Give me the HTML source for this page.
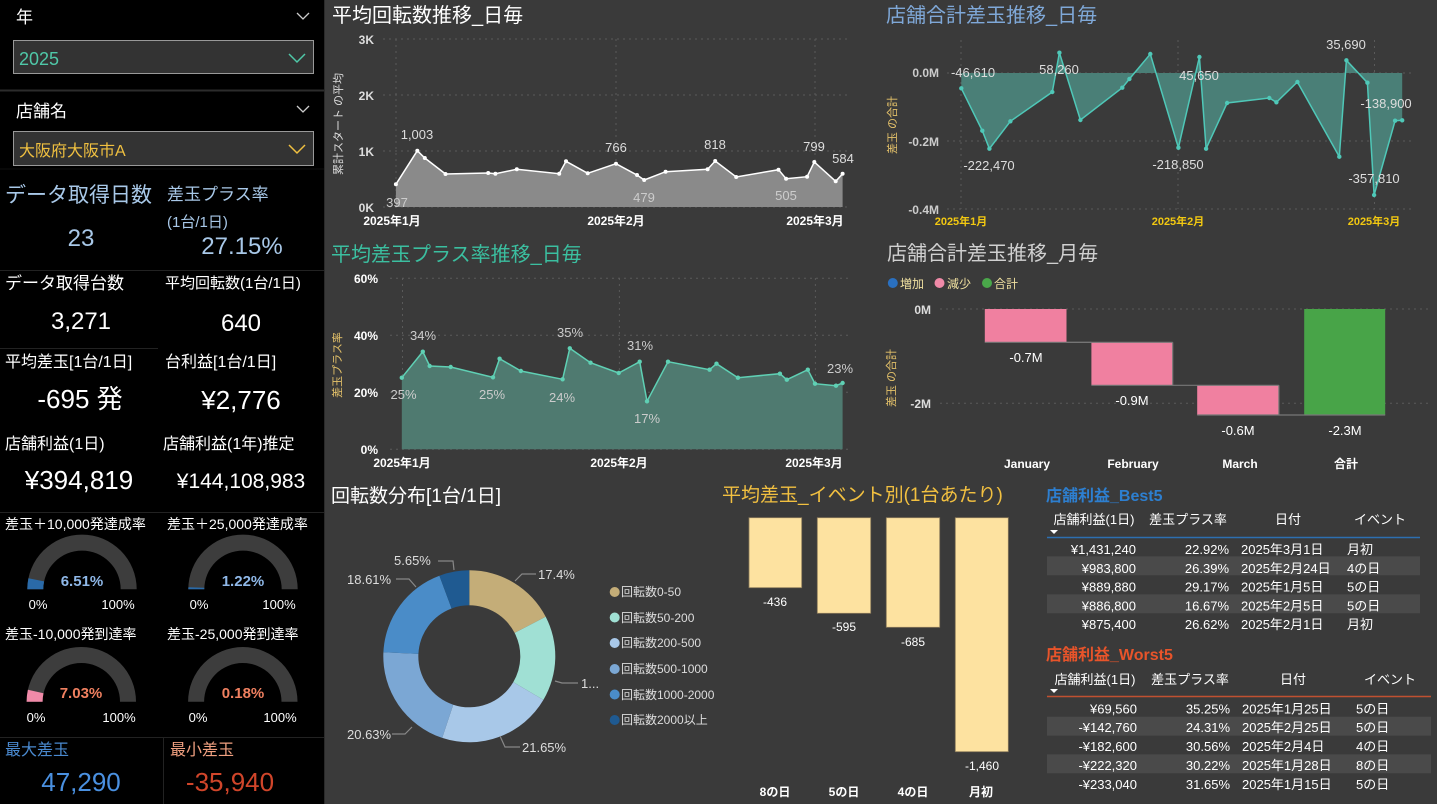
<!DOCTYPE html>
<html><head><meta charset="utf-8"><style>
html,body{margin:0;padding:0;background:#3a3a3a;}
svg{display:block;font-family:"Liberation Sans","Noto Sans CJK JP",sans-serif;}
</style></head><body>
<svg width="1437" height="804" viewBox="0 0 1437 804" xmlns="http://www.w3.org/2000/svg">
<rect x="0" y="0" width="1437" height="804" fill="#3a3a3a"/>
<!-- LEFT PANEL -->
<rect x="0" y="0" width="324" height="804" fill="#000"/>
<line x1="324.5" y1="0" x2="324.5" y2="804" stroke="#2a2a2a"/>
<text x="16" y="23" fill="#fff" font-size="17">年</text>
<path d="M297 13 l6 6 l6 -6" fill="none" stroke="#ccc" stroke-width="1.3"/>
<rect x="13.5" y="40.5" width="300" height="33" fill="#333" stroke="#999"/>
<text x="19" y="65" fill="#4fc8a8" font-size="18">2025</text>
<path d="M289 54 l8 8 l8 -8" fill="none" stroke="#4fc8a8" stroke-width="1.5"/>
<line x1="0" y1="90.5" x2="324" y2="90.5" stroke="#2c2c2c" stroke-width="2"/>
<text x="16" y="117" fill="#fff" font-size="17">店舗名</text>
<path d="M297 106 l6 6 l6 -6" fill="none" stroke="#ccc" stroke-width="1.3"/>
<rect x="13.5" y="131.5" width="300" height="34" fill="#333" stroke="#999"/>
<text x="19" y="156" fill="#f0c040" font-size="16">大阪府大阪市A</text>
<path d="M289 145 l8 8 l8 -8" fill="none" stroke="#f0c040" stroke-width="1.5"/>
<line x1="0" y1="169" x2="324" y2="169" stroke="#111"/>

<text x="5" y="202" fill="#a8c8e8" font-size="21">データ取得日数</text>
<text x="81" y="246" fill="#a8c8e8" font-size="24" text-anchor="middle">23</text>
<text x="167" y="200" fill="#a8c8e8" font-size="17">差玉プラス率</text>
<text x="167" y="227" fill="#a8c8e8" font-size="15">(1台/1日)</text>
<text x="242" y="254" fill="#a8c8e8" font-size="24" text-anchor="middle">27.15%</text>
<line x1="0" y1="270.5" x2="324" y2="270.5" stroke="#222"/>
<text x="5" y="289" fill="#fff" font-size="17">データ取得台数</text>
<text x="81" y="329" fill="#fff" font-size="24" text-anchor="middle">3,271</text>
<text x="165" y="288" fill="#fff" font-size="15">平均回転数(1台/1日)</text>
<text x="241" y="331" fill="#fff" font-size="24" text-anchor="middle">640</text>
<line x1="0" y1="348.5" x2="158" y2="348.5" stroke="#222"/>
<text x="5" y="367" fill="#fff" font-size="16">平均差玉[1台/1日]</text>
<text x="165" y="367" fill="#fff" font-size="16">台利益[1台/1日]</text>
<text x="80" y="408" fill="#fff" font-size="26" text-anchor="middle">-695 発</text>
<text x="241" y="409" fill="#fff" font-size="26" text-anchor="middle">¥2,776</text>
<text x="5" y="449" fill="#fff" font-size="16">店舗利益(1日)</text>
<text x="163" y="449" fill="#fff" font-size="16">店舗利益(1年)推定</text>
<text x="79" y="489" fill="#fff" font-size="26" text-anchor="middle">¥394,819</text>
<text x="241" y="488" fill="#fff" font-size="21" text-anchor="middle">¥144,108,983</text>
<line x1="0" y1="512.5" x2="324" y2="512.5" stroke="#222"/>
<text x="5" y="529" fill="#fff" font-size="14">差玉＋10,000発達成率</text>
<text x="167" y="529" fill="#fff" font-size="14">差玉＋25,000発達成率</text>
<!-- gauges -->
<path d="M27.3 589.3 A54.7 54.7 0 0 1 136.7 589.3 L120.7 589.3 A38.7 38.7 0 0 0 43.3 589.3 Z" fill="#3d3d3d"/>
<path d="M27.3 589.3 A54.7 54.7 0 0 1 28.44 578.2 L44.1 581.4 A38.7 38.7 0 0 0 43.3 589.3 Z" fill="#2a6aa8"/>
<text x="82" y="586" fill="#8fb8e8" font-size="15" font-weight="bold" text-anchor="middle">6.51%</text>
<text x="38" y="609" fill="#fff" font-size="13" text-anchor="middle">0%</text>
<text x="118" y="609" fill="#fff" font-size="13" text-anchor="middle">100%</text>
<path d="M188.3 589.3 A54.7 54.7 0 0 1 297.7 589.3 L281.7 589.3 A38.7 38.7 0 0 0 204.3 589.3 Z" fill="#3d3d3d"/>
<path d="M188.3 589.3 A54.7 54.7 0 0 1 188.4 587.2 L204.3 587.8 A38.7 38.7 0 0 0 204.3 589.3 Z" fill="#2a6aa8"/>
<text x="243" y="586" fill="#8fb8e8" font-size="15" font-weight="bold" text-anchor="middle">1.22%</text>
<text x="199" y="609" fill="#fff" font-size="13" text-anchor="middle">0%</text>
<text x="279" y="609" fill="#fff" font-size="13" text-anchor="middle">100%</text>
<text x="5" y="639" fill="#fff" font-size="14">差玉-10,000発到達率</text>
<text x="167" y="639" fill="#fff" font-size="14">差玉-25,000発到達率</text>
<path d="M26.6 701.7 A54.7 54.7 0 0 1 136 701.7 L120 701.7 A38.7 38.7 0 0 0 42.6 701.7 Z" fill="#3d3d3d"/>
<path d="M26.6 701.7 A54.7 54.7 0 0 1 27.9 689.7 L43.5 693.2 A38.7 38.7 0 0 0 42.6 701.7 Z" fill="#f08aa8"/>
<text x="81" y="698" fill="#f08060" font-size="15" font-weight="bold" text-anchor="middle">7.03%</text>
<text x="36" y="722" fill="#fff" font-size="13" text-anchor="middle">0%</text>
<text x="119" y="722" fill="#fff" font-size="13" text-anchor="middle">100%</text>
<path d="M188.1 701.7 A54.7 54.7 0 0 1 297.5 701.7 L281.5 701.7 A38.7 38.7 0 0 0 204.1 701.7 Z" fill="#3d3d3d"/>
<text x="243" y="698" fill="#f08060" font-size="15" font-weight="bold" text-anchor="middle">0.18%</text>
<text x="198" y="722" fill="#fff" font-size="13" text-anchor="middle">0%</text>
<text x="280" y="722" fill="#fff" font-size="13" text-anchor="middle">100%</text>
<line x1="0" y1="737.5" x2="324" y2="737.5" stroke="#222"/>
<line x1="163.5" y1="737" x2="163.5" y2="804" stroke="#222"/>
<text x="5" y="755" fill="#4a8ad0" font-size="16">最大差玉</text>
<text x="81" y="791" fill="#4a90e0" font-size="26" text-anchor="middle">47,290</text>
<text x="170" y="755" fill="#f0a080" font-size="16">最小差玉</text>
<text x="230" y="791" fill="#d0452a" font-size="26" text-anchor="middle">-35,940</text>

<!-- CHART 1 -->
<text x="332" y="22" fill="#fff" font-size="20">平均回転数推移_日毎</text>
<g stroke="#5a5a5a" stroke-dasharray="2,4" stroke-width="1">
<line x1="383" y1="39" x2="851" y2="39"/><line x1="383" y1="95" x2="851" y2="95"/><line x1="383" y1="151" x2="851" y2="151"/><line x1="383" y1="207" x2="851" y2="207"/>
<line x1="396" y1="39" x2="396" y2="207"/><line x1="616" y1="39" x2="616" y2="207"/><line x1="815" y1="39" x2="815" y2="207"/>
</g>
<path d="M395.9 184.3 L417.3 150.7 L424.8 158 L445.5 174 L488.2 173 L495.4 173.7 L516.8 169.3 L559.2 173.7 L566 161.3 L587.7 173.3 L616 163.7 L637 175 L644.2 180 L665.6 171.7 L707.6 169.3 L715.2 161 L736.2 177 L778.5 169.7 L786.1 178.7 L807.1 176.7 L814.3 162 L835.7 181.3 L842.6 173.7 L842.6 207 L395.9 207 Z" fill="#8a8a8a"/>
<polyline points="395.9,184.3 417.3,150.7 424.8,158 445.5,174 488.2,173 495.4,173.7 516.8,169.3 559.2,173.7 566,161.3 587.7,173.3 616,163.7 637,175 644.2,180 665.6,171.7 707.6,169.3 715.2,161 736.2,177 778.5,169.7 786.1,178.7 807.1,176.7 814.3,162 835.7,181.3 842.6,173.7" fill="none" stroke="#fff" stroke-width="1.5"/>
<g fill="#fff"><circle cx="395.9" cy="184.3" r="2"/><circle cx="417.3" cy="150.7" r="2"/><circle cx="424.8" cy="158" r="2"/><circle cx="445.5" cy="174" r="2"/><circle cx="488.2" cy="173" r="2"/><circle cx="495.4" cy="173.7" r="2"/><circle cx="516.8" cy="169.3" r="2"/><circle cx="559.2" cy="173.7" r="2"/><circle cx="566" cy="161.3" r="2"/><circle cx="587.7" cy="173.3" r="2"/><circle cx="616" cy="163.7" r="2"/><circle cx="637" cy="175" r="2"/><circle cx="644.2" cy="180" r="2"/><circle cx="665.6" cy="171.7" r="2"/><circle cx="707.6" cy="169.3" r="2"/><circle cx="715.2" cy="161" r="2"/><circle cx="736.2" cy="177" r="2"/><circle cx="778.5" cy="169.7" r="2"/><circle cx="786.1" cy="178.7" r="2"/><circle cx="807.1" cy="176.7" r="2"/><circle cx="814.3" cy="162" r="2"/><circle cx="835.7" cy="181.3" r="2"/><circle cx="842.6" cy="173.7" r="2"/></g>
<g font-size="13" text-anchor="middle">
<text x="397" y="207" fill="#ccc">397</text><text x="417" y="139" fill="#ddd">1,003</text><text x="616" y="152" fill="#ddd">766</text><text x="644" y="202" fill="#ccc">479</text><text x="715" y="149" fill="#ddd">818</text><text x="786" y="200" fill="#ccc">505</text><text x="814" y="151" fill="#ddd">799</text><text x="843" y="163" fill="#ddd">584</text>
</g>
<g font-size="12" font-weight="bold" fill="#ddd" text-anchor="end"><text x="374" y="44">3K</text><text x="374" y="100">2K</text><text x="374" y="156">1K</text><text x="374" y="212">0K</text></g>
<g font-size="12" font-weight="bold" fill="#fff" text-anchor="middle"><text x="392" y="225">2025年1月</text><text x="616" y="225">2025年2月</text><text x="815" y="225">2025年3月</text></g>
<text transform="translate(342,124) rotate(-90)" fill="#ddd" font-size="11" text-anchor="middle">累計スタート の平均</text>

<!-- CHART 2 -->
<text x="886" y="22" fill="#7fa8d8" font-size="20">店舗合計差玉推移_日毎</text>
<g stroke="#5a5a5a" stroke-dasharray="2,4">
<line x1="947" y1="73" x2="1411" y2="73"/><line x1="947" y1="141" x2="1411" y2="141"/><line x1="947" y1="209" x2="1411" y2="209"/>
<line x1="961" y1="40" x2="961" y2="209"/><line x1="1178" y1="40" x2="1178" y2="209"/><line x1="1374.5" y1="40" x2="1374.5" y2="209"/>
</g>
<path d="M961.3 73 L961.3 88.3 L982.3 130.7 L989.4 148.7 L1010.4 121.3 L1052.3 92 L1059.4 52.7 L1080.4 120 L1122.3 87.7 L1129.4 79 L1150.3 54 L1178.4 147.7 L1199.4 57 L1206.1 148.7 L1227.1 103 L1269.3 98 L1276.4 102.3 L1297.4 82 L1339.3 156.7 L1346.4 60.3 L1367.4 82.7 L1374.1 195 L1395.1 120.7 L1402.2 120.3 L1402.2 73 Z" fill="#4a7f77"/>
<polyline points="961.3,88.3 982.3,130.7 989.4,148.7 1010.4,121.3 1052.3,92 1059.4,52.7 1080.4,120 1122.3,87.7 1129.4,79 1150.3,54 1178.4,147.7 1199.4,57 1206.1,148.7 1227.1,103 1269.3,98 1276.4,102.3 1297.4,82 1339.3,156.7 1346.4,60.3 1367.4,82.7 1374.1,195 1395.1,120.7 1402.2,120.3" fill="none" stroke="#4fc8b8" stroke-width="1.5"/>
<g fill="#4fc8b8"><circle cx="961.3" cy="88.3" r="2.2"/><circle cx="982.3" cy="130.7" r="2.2"/><circle cx="989.4" cy="148.7" r="2.2"/><circle cx="1010.4" cy="121.3" r="2.2"/><circle cx="1052.3" cy="92" r="2.2"/><circle cx="1059.4" cy="52.7" r="2.2"/><circle cx="1080.4" cy="120" r="2.2"/><circle cx="1122.3" cy="87.7" r="2.2"/><circle cx="1129.4" cy="79" r="2.2"/><circle cx="1150.3" cy="54" r="2.2"/><circle cx="1178.4" cy="147.7" r="2.2"/><circle cx="1199.4" cy="57" r="2.2"/><circle cx="1206.1" cy="148.7" r="2.2"/><circle cx="1227.1" cy="103" r="2.2"/><circle cx="1269.3" cy="98" r="2.2"/><circle cx="1276.4" cy="102.3" r="2.2"/><circle cx="1297.4" cy="82" r="2.2"/><circle cx="1339.3" cy="156.7" r="2.2"/><circle cx="1346.4" cy="60.3" r="2.2"/><circle cx="1367.4" cy="82.7" r="2.2"/><circle cx="1374.1" cy="195" r="2.2"/><circle cx="1395.1" cy="120.7" r="2.2"/><circle cx="1402.2" cy="120.3" r="2.2"/></g>
<g font-size="13" fill="#ddd" text-anchor="middle">
<text x="973" y="77">-46,610</text><text x="1059" y="74">58,260</text><text x="989" y="170">-222,470</text><text x="1178" y="169">-218,850</text><text x="1199" y="80">45,650</text><text x="1346" y="49">35,690</text><text x="1386" y="108">-138,900</text><text x="1374" y="183">-357,810</text>
</g>
<g font-size="12" font-weight="bold" fill="#ccc" text-anchor="end"><text x="939" y="77">0.0M</text><text x="939" y="146">-0.2M</text><text x="939" y="214">-0.4M</text></g>
<g font-size="11" font-weight="bold" fill="#f2c811" text-anchor="middle"><text x="961" y="225">2025年1月</text><text x="1178" y="225">2025年2月</text><text x="1374" y="225">2025年3月</text></g>
<text transform="translate(896,125) rotate(-90)" fill="#e6c36a" font-size="11" text-anchor="middle">差玉 の合計</text>

<!-- CHART 3 -->
<text x="331" y="261" fill="#3bbfa0" font-size="20">平均差玉プラス率推移_日毎</text>
<g stroke="#5a5a5a" stroke-dasharray="2,4">
<line x1="390" y1="278.3" x2="851" y2="278.3"/><line x1="390" y1="335.3" x2="851" y2="335.3"/><line x1="390" y1="392.3" x2="851" y2="392.3"/><line x1="390" y1="449.3" x2="851" y2="449.3"/>
<line x1="402.5" y1="278" x2="402.5" y2="449"/><line x1="619.4" y1="278" x2="619.4" y2="449"/><line x1="815.4" y1="278" x2="815.4" y2="449"/>
</g>
<path d="M401.8 377.7 L422.8 351.7 L429.7 366 L450.7 367 L493 377.3 L499.6 358.7 L520.9 371 L562.6 379.3 L569.8 348.3 L590.5 362.7 L618.7 373 L639.7 361.7 L647 401.3 L668 361.7 L709.6 369.7 L716.5 363.7 L737.9 377.7 L779.9 373.7 L786.8 379.7 L807.8 369.7 L815 383.7 L836 385.7 L842.6 383 L842.6 449.3 L401.8 449.3 Z" fill="#4f7a70"/>
<polyline points="401.8,377.7 422.8,351.7 429.7,366 450.7,367 493,377.3 499.6,358.7 520.9,371 562.6,379.3 569.8,348.3 590.5,362.7 618.7,373 639.7,361.7 647,401.3 668,361.7 709.6,369.7 716.5,363.7 737.9,377.7 779.9,373.7 786.8,379.7 807.8,369.7 815,383.7 836,385.7 842.6,383" fill="none" stroke="#5fd0b4" stroke-width="1.5"/>
<g fill="#5fd0b4"><circle cx="401.8" cy="377.7" r="2.2"/><circle cx="422.8" cy="351.7" r="2.2"/><circle cx="429.7" cy="366" r="2.2"/><circle cx="450.7" cy="367" r="2.2"/><circle cx="493" cy="377.3" r="2.2"/><circle cx="499.6" cy="358.7" r="2.2"/><circle cx="520.9" cy="371" r="2.2"/><circle cx="562.6" cy="379.3" r="2.2"/><circle cx="569.8" cy="348.3" r="2.2"/><circle cx="590.5" cy="362.7" r="2.2"/><circle cx="618.7" cy="373" r="2.2"/><circle cx="639.7" cy="361.7" r="2.2"/><circle cx="647" cy="401.3" r="2.2"/><circle cx="668" cy="361.7" r="2.2"/><circle cx="709.6" cy="369.7" r="2.2"/><circle cx="716.5" cy="363.7" r="2.2"/><circle cx="737.9" cy="377.7" r="2.2"/><circle cx="779.9" cy="373.7" r="2.2"/><circle cx="786.8" cy="379.7" r="2.2"/><circle cx="807.8" cy="369.7" r="2.2"/><circle cx="815" cy="383.7" r="2.2"/><circle cx="836" cy="385.7" r="2.2"/><circle cx="842.6" cy="383" r="2.2"/></g>
<g font-size="13" fill="#ccc" text-anchor="middle">
<text x="403.5" y="399">25%</text><text x="423" y="340">34%</text><text x="492" y="399">25%</text><text x="570" y="337">35%</text><text x="562" y="402">24%</text><text x="640" y="350">31%</text><text x="647" y="423">17%</text><text x="840" y="373">23%</text>
</g>
<g font-size="12" font-weight="bold" fill="#fff" text-anchor="end"><text x="378" y="283">60%</text><text x="378" y="340">40%</text><text x="378" y="397">20%</text><text x="378" y="454">0%</text></g>
<g font-size="12" font-weight="bold" fill="#fff" text-anchor="middle"><text x="402" y="467">2025年1月</text><text x="619" y="467">2025年2月</text><text x="814" y="467">2025年3月</text></g>
<text transform="translate(341,365) rotate(-90)" fill="#e6c36a" font-size="11" text-anchor="middle">差玉プラス率</text>

<!-- CHART 4 waterfall -->
<text x="887" y="260" fill="#d0d0d0" font-size="20">店舗合計差玉推移_月毎</text>
<circle cx="892.8" cy="283" r="5" fill="#2a70c0"/><text x="900" y="288" fill="#f0e0a0" font-size="12">増加</text>
<circle cx="939.5" cy="283" r="5" fill="#f08aa8"/><text x="947" y="288" fill="#f0e0a0" font-size="12">減少</text>
<circle cx="987" cy="283" r="5" fill="#4aa84a"/><text x="994" y="288" fill="#f0e0a0" font-size="12">合計</text>
<g stroke="#5a5a5a" stroke-dasharray="2,4"><line x1="940" y1="309" x2="1432" y2="309"/><line x1="940" y1="403.3" x2="1432" y2="403.3"/></g>
<g font-size="12" font-weight="bold" fill="#ddd" text-anchor="end"><text x="931" y="314">0M</text><text x="931" y="408">-2M</text></g>
<text transform="translate(895,378) rotate(-90)" fill="#e6c36a" font-size="11" text-anchor="middle">差玉 の合計</text>
<rect x="984.8" y="309" width="81.7" height="33.3" fill="#f080a0"/>
<rect x="1091.4" y="342.3" width="81.3" height="43" fill="#f080a0"/>
<rect x="1197.2" y="385.3" width="81.7" height="29.7" fill="#f080a0"/>
<rect x="1304.2" y="309" width="81" height="106" fill="#48a448"/>
<g stroke="#777" stroke-width="1.2" fill="none">
<line x1="984.8" y1="342.3" x2="1172.7" y2="342.3"/><line x1="1066.5" y1="342.3" x2="1091.4" y2="342.3"/>
<line x1="1091.4" y1="385.3" x2="1278.9" y2="385.3"/><line x1="1197.2" y1="415" x2="1385.2" y2="415"/>
<line x1="1172.7" y1="342.3" x2="1172.7" y2="385.3"/><line x1="1278.9" y1="385.3" x2="1278.9" y2="415"/>
</g>
<g font-size="13" fill="#fff" text-anchor="middle">
<text x="1026" y="362">-0.7M</text><text x="1132" y="405">-0.9M</text><text x="1238" y="435">-0.6M</text><text x="1345" y="435">-2.3M</text>
</g>
<g font-size="12" font-weight="bold" fill="#fff" text-anchor="middle"><text x="1027" y="468">January</text><text x="1133" y="468">February</text><text x="1240" y="468">March</text><text x="1346" y="468">合計</text></g>

<!-- DONUT -->
<text x="331" y="502" fill="#fff" font-size="19">回転数分布[1台/1日]</text>
<path d="M469.3 570.3 A86 86 0 0 1 545.7 616.8 L514.6 632.9 A51 51 0 0 0 469.3 605.3 Z" fill="#c4ad78"/>
<path d="M545.7 616.8 A86 86 0 0 1 543.4 699.9 L513.3 682.1 A51 51 0 0 0 514.6 632.9 Z" fill="#a0e0d4"/>
<path d="M543.4 699.9 A86 86 0 0 1 442.2 737.9 L453.2 704.7 A51 51 0 0 0 513.3 682.1 Z" fill="#a8c8e8"/>
<path d="M442.2 737.9 A86 86 0 0 1 383.4 652.3 L418.4 653.9 A51 51 0 0 0 453.2 704.7 Z" fill="#7ba7d4"/>
<path d="M383.4 652.3 A86 86 0 0 1 439.4 575.7 L451.6 608.5 A51 51 0 0 0 418.4 653.9 Z" fill="#4a8cc8"/>
<path d="M439.4 575.7 A86 86 0 0 1 469.3 570.3 L469.3 605.3 A51 51 0 0 0 451.6 608.5 Z" fill="#1f5a91"/>
<g stroke="#888" fill="none" stroke-width="1.2">
<polyline points="515,581 522,574 536,574"/><polyline points="555,681 562,683 578,683"/><polyline points="500,736 505,747 520,747"/>
<polyline points="412,727 405,734 392,734"/><polyline points="416,587 409,579 396,579"/><polyline points="454,570 453,561 438,561"/>
</g>
<g font-size="13" fill="#ddd">
<text x="538" y="579">17.4%</text><text x="581" y="688">1...</text><text x="522" y="752">21.65%</text>
<text x="347" y="739">20.63%</text><text x="347" y="584">18.61%</text><text x="394" y="565">5.65%</text>
</g>
<g font-size="12" fill="#ddd">
<circle cx="614.7" cy="592" r="5" fill="#c4ad78"/><text x="621" y="596">回転数0-50</text>
<circle cx="614.7" cy="617.5" r="5" fill="#a0e0d4"/><text x="621" y="622">回転数50-200</text>
<circle cx="614.7" cy="643" r="5" fill="#a8c8e8"/><text x="621" y="647">回転数200-500</text>
<circle cx="614.7" cy="669" r="5" fill="#7ba7d4"/><text x="621" y="673">回転数500-1000</text>
<circle cx="614.7" cy="694.5" r="5" fill="#4a8cc8"/><text x="621" y="699">回転数1000-2000</text>
<circle cx="614.7" cy="720" r="5" fill="#1f5a91"/><text x="621" y="724">回転数2000以上</text>
</g>

<!-- EVENT BARS -->
<text x="722" y="501" fill="#f2c040" font-size="19">平均差玉_イベント別(1台あたり)</text>
<g fill="#fde2a0" stroke="#8a7a5a" stroke-width="0.8">
<rect x="749" y="517.7" width="52.7" height="70"/>
<rect x="817.3" y="517.7" width="53.4" height="95.6"/>
<rect x="886.3" y="517.7" width="53.4" height="109.6"/>
<rect x="955.3" y="517.7" width="53" height="234"/>
</g>
<g font-size="12" fill="#fff" text-anchor="middle">
<text x="775" y="606">-436</text><text x="844" y="631">-595</text><text x="913" y="646">-685</text><text x="982" y="770">-1,460</text>
</g>
<g font-size="12" font-weight="bold" fill="#fff" text-anchor="middle"><text x="775" y="796">8の日</text><text x="844" y="796">5の日</text><text x="913" y="796">4の日</text><text x="981" y="796">月初</text></g>

<!-- TABLES -->
<text x="1046" y="501" fill="#2d7fd0" font-size="16" font-weight="bold">店舗利益_Best5</text>
<g font-size="13" fill="#fff">
<text x="1094" y="524" text-anchor="middle">店舗利益(1日)</text><text x="1188" y="524" text-anchor="middle">差玉プラス率</text><text x="1288" y="524" text-anchor="middle">日付</text><text x="1380" y="524" text-anchor="middle">イベント</text>
</g>
<path d="M1050 530 h8 l-4 4 z" fill="#fff"/>
<line x1="1047" y1="537.5" x2="1420" y2="537.5" stroke="#2d6fb0" stroke-width="1.5"/>
<rect x="1047" y="556.3" width="373" height="19" fill="#4a4a4a"/>
<rect x="1047" y="594.3" width="373" height="19" fill="#4a4a4a"/>
<g font-size="13" fill="#fff">
<g text-anchor="end"><text x="1136" y="554">¥1,431,240</text><text x="1136" y="573">¥983,800</text><text x="1136" y="591.5">¥889,880</text><text x="1136" y="610.5">¥886,800</text><text x="1136" y="629">¥875,400</text>
<text x="1229" y="554">22.92%</text><text x="1229" y="573">26.39%</text><text x="1229" y="591.5">29.17%</text><text x="1229" y="610.5">16.67%</text><text x="1229" y="629">26.62%</text></g>
<text x="1241" y="554">2025年3月1日</text><text x="1241" y="573">2025年2月24日</text><text x="1241" y="591.5">2025年1月5日</text><text x="1241" y="610.5">2025年2月5日</text><text x="1241" y="629">2025年2月1日</text>
<text x="1347" y="554">月初</text><text x="1347" y="573">4の日</text><text x="1347" y="591.5">5の日</text><text x="1347" y="610.5">5の日</text><text x="1347" y="629">月初</text>
</g>
<text x="1046" y="660" fill="#e8542a" font-size="16" font-weight="bold">店舗利益_Worst5</text>
<g font-size="13" fill="#fff">
<text x="1095" y="684" text-anchor="middle">店舗利益(1日)</text><text x="1190" y="684" text-anchor="middle">差玉プラス率</text><text x="1293" y="684" text-anchor="middle">日付</text><text x="1390" y="684" text-anchor="middle">イベント</text>
</g>
<path d="M1050 689 h8 l-4 4 z" fill="#fff"/>
<line x1="1047" y1="696.5" x2="1431" y2="696.5" stroke="#c05030" stroke-width="1.5"/>
<rect x="1047" y="716.7" width="384" height="19" fill="#4a4a4a"/>
<rect x="1047" y="754.3" width="384" height="19" fill="#4a4a4a"/>
<g font-size="13" fill="#fff">
<g text-anchor="end"><text x="1137" y="713.5">¥69,560</text><text x="1137" y="732">-¥142,760</text><text x="1137" y="751">-¥182,600</text><text x="1137" y="770">-¥222,320</text><text x="1137" y="789">-¥233,040</text>
<text x="1230" y="713.5">35.25%</text><text x="1230" y="732">24.31%</text><text x="1230" y="751">30.56%</text><text x="1230" y="770">30.22%</text><text x="1230" y="789">31.65%</text></g>
<text x="1242" y="713.5">2025年1月25日</text><text x="1242" y="732">2025年2月25日</text><text x="1242" y="751">2025年2月4日</text><text x="1242" y="770">2025年1月28日</text><text x="1242" y="789">2025年1月15日</text>
<text x="1356" y="713.5">5の日</text><text x="1356" y="732">5の日</text><text x="1356" y="751">4の日</text><text x="1356" y="770">8の日</text><text x="1356" y="789">5の日</text>
</g>
</svg>
</body></html>
